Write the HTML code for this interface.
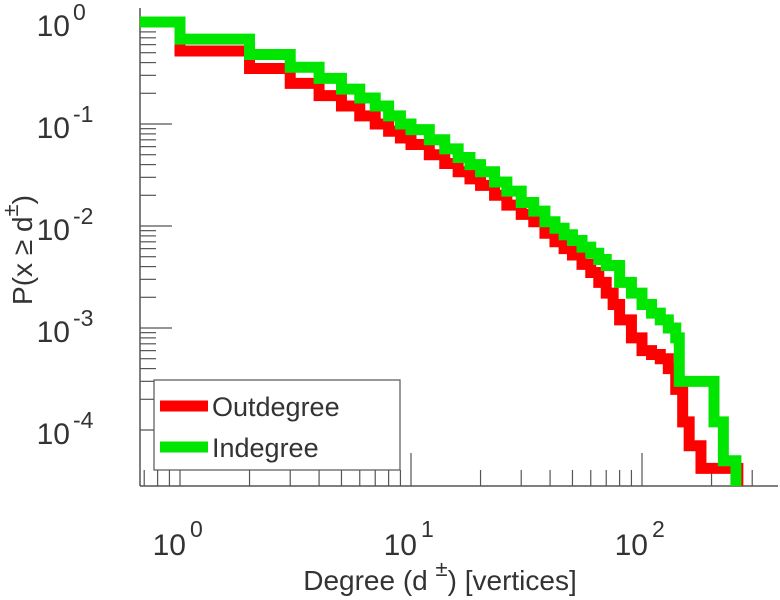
<!DOCTYPE html>
<html><head><meta charset="utf-8"><style>
body{margin:0;background:#fff}
svg{display:block;font-family:"Liberation Sans",sans-serif}
</style></head><body>
<svg width="780" height="600" viewBox="0 0 780 600">
<g id="axes"></g>
<g id="series"></g>
<g id="legend">
<rect x="154" y="380" width="246" height="90" fill="#fff" stroke="#555" stroke-width="1.2"/>
<line x1="160" y1="406" x2="208" y2="406" stroke="#ff0000" stroke-width="11"/>
<text x="212" y="416" font-size="27" fill="#333">Outdegree</text>
<line x1="160" y1="447" x2="208" y2="447" stroke="#00e600" stroke-width="11"/>
<text x="212" y="457" font-size="27" fill="#333">Indegree</text>
</g>
<text x="440" y="590" text-anchor="middle" font-size="28" fill="#333">Degree (d <tspan dy="-14" font-size="22">±</tspan><tspan dy="14">) [vertices]</tspan></text>
<text transform="translate(32,250) rotate(-90)" text-anchor="middle" font-size="28" fill="#333">P(x ≥ d<tspan dy="-14" font-size="22">±</tspan><tspan dy="14">)</tspan></text>
</svg>
<script>
const outDeg=[0.67,1,2,3,4,5,6,7,8,9,10,12,14,16,18,20,23,26,30,34,38,42,46,50,55,60,65,70,75,80,90,100,110,120,130,140,150,160,180,260];
const outVal=[1,0.52,0.35,0.25,0.19,0.15,0.12,0.1,0.085,0.073,0.063,0.05,0.041,0.034,0.029,0.025,0.02,0.016,0.013,0.011,0.0085,0.007,0.006,0.0052,0.0042,0.0035,0.0028,0.0022,0.0017,0.0012,0.0008,0.0006,0.00055,0.0005,0.0004,0.00025,0.00012,0.00007,0.000042,0.000042];
const inDeg=[0.67,1,2,3,4,5,6,7,8,9,10,12,14,16,18,20,23,26,30,34,38,42,46,50,55,60,65,70,80,90,100,110,120,130,140,145,205,225,255];
const inVal=[1,0.68,0.48,0.36,0.28,0.22,0.18,0.15,0.12,0.1,0.088,0.07,0.057,0.047,0.04,0.034,0.027,0.022,0.017,0.014,0.011,0.0095,0.0082,0.0072,0.0062,0.0054,0.0047,0.0041,0.0028,0.0022,0.0017,0.0014,0.0012,0.001,0.0008,0.0003,0.00012,0.00005,0.00005];
const xTicks=[0,1,2];
const yTicks=[0,-1,-2,-3,-4];
const NS="http://www.w3.org/2000/svg";
const X0=180,XD=231,Y0=22,YD=102,L=140,B=486,R=778;
const xs=d=>X0+Math.log10(d)*XD, ys=v=>Y0-Math.log10(v)*YD;
const ax=document.getElementById('axes'), se=document.getElementById('series');
function mk(tag,at,p){const e=document.createElementNS(NS,tag);for(const k in at)e.setAttribute(k,at[k]);p.appendChild(e);return e;}
let a=mk('line',{x1:L,y1:8,x2:L,y2:B,stroke:'#555','stroke-width':1.5},ax);


a=mk('line',{x1:L,y1:B,x2:R,y2:B,stroke:'#555','stroke-width':1.5},ax);


for(const e of yTicks){
 for(let m=1;m<10;m++){const v=Math.pow(10,e)*m;const y=ys(v);if(y>B||y<8)continue;
  const t=mk('line',{x1:L,y1:y,x2:L+(m==1?32:16),y2:y,stroke:'#555','stroke-width':1.2},ax);
  
  }
 const y=ys(Math.pow(10,e));
 const tx=mk('text',{x:70,y:y+14,'text-anchor':'end','font-size':30,fill:'#333'},ax);
 tx.textContent='10';
 
 
 const sp=mk('text',{x:73,y:y-2,'font-size':23,fill:'#333'},ax);
 sp.textContent=e==0?'0':'-'+(-e);
 
 
}
for(let e=-1;e<=2;e++){
 for(let m=1;m<10;m++){const x=xs(Math.pow(10,e)*m);if(x<L||x>R)continue;
  const t=mk('line',{x1:x,y1:B,x2:x,y2:B-(m==1?33:16),stroke:'#555','stroke-width':1.2},ax);
  
  }
}
for(const e of xTicks){
 const x=xs(Math.pow(10,e));
 const tx=mk('text',{x:x+6,y:555,'text-anchor':'end','font-size':30,fill:'#333'},ax);
 tx.textContent='10';
 
 
 const sp=mk('text',{x:x+10,y:537,'font-size':23,fill:'#333'},ax);
 sp.textContent=String(e);
 
 
}
function step(deg,val,color,name){
 let d='M'+xs(deg[0])+','+ys(val[0]);
 for(let i=1;i<deg.length;i++){d+=' H'+xs(deg[i])+' V'+ys(val[i]);}
 d+=' V'+B;
 const p=mk('path',{d:d,fill:'none',stroke:color,'stroke-width':11,'stroke-linejoin':'miter'},se);
 
 
}
step(outDeg,outVal,'#ff0000','outdegree-line');
step(inDeg,inVal,'#00e600','indegree-line');
</script>
</body></html>
